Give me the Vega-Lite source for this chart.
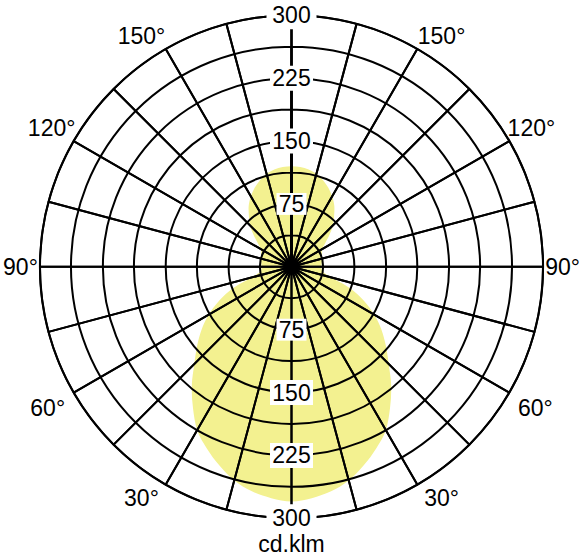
{
  "$schema": "https://vega.github.io/schema/vega-lite/v6.json",
  "width": 503,
  "height": 503,
  "autosize": {"type": "none"},
  "padding": {"left": 40, "top": 15.3, "right": 41, "bottom": 41.7},
  "background": "white",
  "view": {"stroke": null},
  "config": {"font": "Liberation Sans"},
  "datasets": {
    "lum": [
      {"phi": 0, "cd": 280}, {"phi": 5, "cd": 277}, {"phi": 10, "cd": 272}, {"phi": 15, "cd": 264},
      {"phi": 20, "cd": 252}, {"phi": 25, "cd": 239}, {"phi": 30, "cd": 225}, {"phi": 35, "cd": 205},
      {"phi": 40, "cd": 185}, {"phi": 45, "cd": 164}, {"phi": 50, "cd": 147}, {"phi": 55, "cd": 131},
      {"phi": 60, "cd": 114}, {"phi": 65, "cd": 95}, {"phi": 70, "cd": 74}, {"phi": 75, "cd": 50},
      {"phi": 80, "cd": 39}, {"phi": 85, "cd": 36}, {"phi": 90, "cd": 36}, {"phi": 95, "cd": 36},
      {"phi": 100, "cd": 37}, {"phi": 105, "cd": 37.5}, {"phi": 110, "cd": 38.5}, {"phi": 115, "cd": 40},
      {"phi": 120, "cd": 42}, {"phi": 125, "cd": 49}, {"phi": 130, "cd": 59}, {"phi": 135, "cd": 70},
      {"phi": 140, "cd": 79}, {"phi": 145, "cd": 89}, {"phi": 150, "cd": 97}, {"phi": 155, "cd": 104},
      {"phi": 160, "cd": 110}, {"phi": 165, "cd": 115}, {"phi": 170, "cd": 118}, {"phi": 175, "cd": 119.5},
      {"phi": 180, "cd": 120},
      {"phi": 185, "cd": 119.5}, {"phi": 190, "cd": 118}, {"phi": 195, "cd": 115}, {"phi": 200, "cd": 110},
      {"phi": 205, "cd": 104}, {"phi": 210, "cd": 97}, {"phi": 215, "cd": 89}, {"phi": 220, "cd": 79},
      {"phi": 225, "cd": 70}, {"phi": 230, "cd": 59}, {"phi": 235, "cd": 49}, {"phi": 240, "cd": 42},
      {"phi": 245, "cd": 40}, {"phi": 250, "cd": 38.5}, {"phi": 255, "cd": 37.5}, {"phi": 260, "cd": 37},
      {"phi": 265, "cd": 36}, {"phi": 270, "cd": 36}, {"phi": 275, "cd": 36}, {"phi": 280, "cd": 39},
      {"phi": 285, "cd": 50}, {"phi": 290, "cd": 74}, {"phi": 295, "cd": 95}, {"phi": 300, "cd": 114},
      {"phi": 305, "cd": 131}, {"phi": 310, "cd": 147}, {"phi": 315, "cd": 164}, {"phi": 320, "cd": 185},
      {"phi": 325, "cd": 205}, {"phi": 330, "cd": 225}, {"phi": 335, "cd": 239}, {"phi": 340, "cd": 252},
      {"phi": 345, "cd": 264}, {"phi": 350, "cd": 272}, {"phi": 355, "cd": 277}
    ],
    "rings": [{"r": 37.5}, {"r": 75}, {"r": 112.5}, {"r": 150}, {"r": 187.5}, {"r": 225}, {"r": 262.5}, {"r": 300}],
    "spokes": [
      {"t": 0, "t2": 15}, {"t": 15, "t2": 30}, {"t": 30, "t2": 45}, {"t": 45, "t2": 60},
      {"t": 60, "t2": 75}, {"t": 75, "t2": 90}, {"t": 90, "t2": 105}, {"t": 105, "t2": 120},
      {"t": 120, "t2": 135}, {"t": 135, "t2": 150}, {"t": 150, "t2": 165}, {"t": 165, "t2": 180},
      {"t": 180, "t2": 195}, {"t": 195, "t2": 210}, {"t": 210, "t2": 225}, {"t": 225, "t2": 240},
      {"t": 240, "t2": 255}, {"t": 255, "t2": 270}, {"t": 270, "t2": 285}, {"t": 285, "t2": 300},
      {"t": 300, "t2": 315}, {"t": 315, "t2": 330}, {"t": 330, "t2": 345}, {"t": 345, "t2": 360}
    ],
    "vals": [
      {"lab": "75", "v": 75}, {"lab": "150", "v": 150}, {"lab": "225", "v": 225}, {"lab": "300", "v": 300},
      {"lab": "75", "v": -75}, {"lab": "150", "v": -150}, {"lab": "225", "v": -225}, {"lab": "300", "v": -300}
    ],
    "degs": [
      {"lab": "150°", "ta": 327, "tr": 328.6}, {"lab": "150°", "ta": 33, "tr": 328.6},
      {"lab": "120°", "ta": 300, "tr": 330.4}, {"lab": "120°", "ta": 60, "tr": 330.4},
      {"lab": "90°", "ta": 270, "tr": 323.3}, {"lab": "90°", "ta": 90, "tr": 323.3},
      {"lab": "60°", "ta": 240, "tr": 335.8}, {"lab": "60°", "ta": 120, "tr": 335.8},
      {"lab": "30°", "ta": 213, "tr": 328.6}, {"lab": "30°", "ta": 147, "tr": 328.6}
    ]
  },
  "resolve": {"scale": {"theta": "shared", "radius": "shared"}},
  "layer": [
    {
      "data": {"name": "lum"},
      "transform": [
        {"calculate": "datum.cd * sin(datum.phi * PI / 180)", "as": "px"},
        {"calculate": "-datum.cd * cos(datum.phi * PI / 180)", "as": "py"}
      ],
      "mark": {"type": "line", "interpolate": "cardinal-closed", "filled": true, "fill": "#f3f190", "fillOpacity": 1, "strokeOpacity": 0},
      "encoding": {
        "x": {"field": "px", "type": "quantitative", "scale": {"domain": [-300, 300], "nice": false, "zero": false}, "axis": null},
        "y": {"field": "py", "type": "quantitative", "scale": {"domain": [-300, 300], "nice": false, "zero": false}, "axis": null},
        "order": {"field": "phi", "type": "quantitative"}
      }
    },
    {
      "data": {"name": "rings"},
      "mark": {"type": "arc", "theta": 0, "theta2": 6.283185307, "filled": false, "stroke": "black", "strokeWidth": 2},
      "encoding": {
        "radius": {"field": "r", "type": "quantitative", "stack": null, "scale": {"type": "linear", "domain": [0, 300], "range": [0, 251.5], "zero": true, "nice": false}}
      }
    },
    {
      "data": {"name": "spokes"},
      "mark": {"type": "arc", "filled": false, "stroke": "black", "strokeWidth": 2, "strokeJoin": "bevel"},
      "encoding": {
        "theta": {"field": "t", "type": "quantitative", "stack": null, "scale": {"type": "linear", "domain": [0, 360], "range": [0, 6.283185307], "zero": true, "nice": false}},
        "theta2": {"field": "t2"},
        "radius": {"datum": 300}
      }
    },
    {
      "data": {"name": "vals"},
      "transform": [{"filter": "datum.lab == '75'"}],
      "mark": {"type": "point", "filled": true, "fill": "white", "opacity": 1, "strokeWidth": 0, "shape": "M-1,-0.73 L1,-0.73 L1,0.73 L-1,0.73 Z", "size": 900},
      "encoding": {
        "x": {"datum": 0},
        "y": {"field": "v", "type": "quantitative"}
      }
    },
    {
      "data": {"name": "vals"},
      "transform": [{"filter": "datum.lab == '150' || datum.lab == '225'"}],
      "mark": {"type": "point", "filled": true, "fill": "white", "opacity": 1, "strokeWidth": 0, "shape": "M-1,-0.58 L1,-0.58 L1,0.58 L-1,0.58 Z", "size": 1849},
      "encoding": {
        "x": {"datum": 0},
        "y": {"field": "v", "type": "quantitative"}
      }
    },
    {
      "data": {"name": "vals"},
      "transform": [{"filter": "datum.lab == '300'"}],
      "mark": {"type": "point", "filled": true, "fill": "white", "opacity": 1, "strokeWidth": 0, "shape": "M-1,-0.56 L1,-0.56 L1,0.56 L-1,0.56 Z", "size": 2500},
      "encoding": {
        "x": {"datum": 0},
        "y": {"field": "v", "type": "quantitative"}
      }
    },
    {
      "data": {"name": "vals"},
      "mark": {"type": "text", "fontSize": 23, "font": "Liberation Sans", "color": "black", "align": "center", "baseline": "middle", "dy": 1},
      "encoding": {
        "x": {"datum": 0},
        "y": {"field": "v", "type": "quantitative"},
        "text": {"field": "lab"}
      }
    },
    {
      "data": {"name": "degs"},
      "mark": {"type": "text", "fontSize": 23, "font": "Liberation Sans", "color": "black", "align": "center", "baseline": "middle", "dy": 1},
      "encoding": {
        "theta": {"field": "ta", "type": "quantitative", "stack": null},
        "radius": {"field": "tr", "type": "quantitative", "stack": null},
        "text": {"field": "lab"}
      }
    },
    {
      "data": {"values": [{"lab": "cd.klm"}]},
      "mark": {"type": "text", "fontSize": 23, "font": "Liberation Sans", "color": "black", "align": "center", "baseline": "middle", "dy": 27},
      "encoding": {
        "x": {"datum": 0},
        "y": {"datum": -300},
        "text": {"field": "lab"}
      }
    }
  ]
}
